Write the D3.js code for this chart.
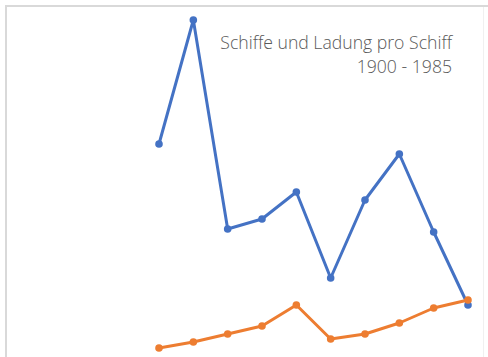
<!DOCTYPE html>
<html>
<head>
<meta charset="utf-8">
<script src="https://cdn.jsdelivr.net/npm/d3@7"></script>
<style>
  html, body { margin: 0; padding: 0; background: #fff; }
  svg { display: block; }
</style>
</head>
<body>
<svg id="chart" width="488" height="357"></svg>
<script>
// Ten sampling points between 1900 and 1985
const categories = ["1900", "1910", "1920", "1925", "1930", "1940", "1950", "1960", "1970", "1985"];
// Number of ships (index)
const schiffe = [216, 340, 131, 141, 168, 82, 160, 206, 128, 55];
// Cargo per ship (index)
const ladung = [12, 18, 26, 34, 55, 21, 26, 37, 52, 60];
const titleLines = ["Schiffe und Ladung pro Schiff", "1900 - 1985"];

const W = 488, H = 357;
const svg = d3.select("#chart");

// Chart frame (light grey border, partially cropped)
svg.append("line").attr("x1", 5).attr("x2", W).attr("y1", 6).attr("y2", 6)
  .attr("stroke", "#d9d9d9").attr("stroke-width", 2);
svg.append("line").attr("x1", 6).attr("x2", 6).attr("y1", 5).attr("y2", H)
  .attr("stroke", "#d9d9d9").attr("stroke-width", 2);
svg.append("line").attr("x1", 483.5).attr("x2", 483.5).attr("y1", 7).attr("y2", H)
  .attr("stroke", "#f0f0f0").attr("stroke-width", 1);

const x = d3.scalePoint().domain(categories).range([159, 468]);
const y = d3.scaleLinear().domain([0, 340]).range([360, 20]);

const line = d3.line().x((d, i) => x(categories[i])).y(d => y(d));

function drawSeries(values, color) {
  const g = svg.append("g");
  g.append("path").datum(values)
    .attr("d", line)
    .attr("fill", "none")
    .attr("stroke", color)
    .attr("stroke-width", 3)
    .attr("stroke-linejoin", "round");
  g.selectAll("circle").data(values).join("circle")
    .attr("cx", (d, i) => x(categories[i]))
    .attr("cy", d => y(d))
    .attr("r", 3.8)
    .attr("fill", color);
}

drawSeries(schiffe, "#4472c4");
drawSeries(ladung, "#ed7d31");

// Title, right-aligned in the upper right corner
const tEnd = 452;
const font = "'Open Sans', 'Noto Sans', sans-serif";
const t1 = svg.append("text")
  .attr("x", tEnd).attr("y", 49)
  .attr("text-anchor", "end")
  .attr("font-family", font).attr("font-weight", 300)
  .attr("font-size", 14)
  .attr("fill", "#595959")
  .text(titleLines[0]);
const t2 = svg.append("text")
  .attr("x", tEnd).attr("y", 73)
  .attr("text-anchor", "end")
  .attr("font-family", font).attr("font-weight", 300)
  .attr("font-size", 14)
  .attr("fill", "#595959")
  .text(titleLines[1]);

// Scale the title font so the first line spans its intended width
const w1 = t1.node().getComputedTextLength();
const fs = 14 * 232 / w1;
t1.attr("font-size", fs);
t2.attr("font-size", fs);
</script>
</body>
</html>
